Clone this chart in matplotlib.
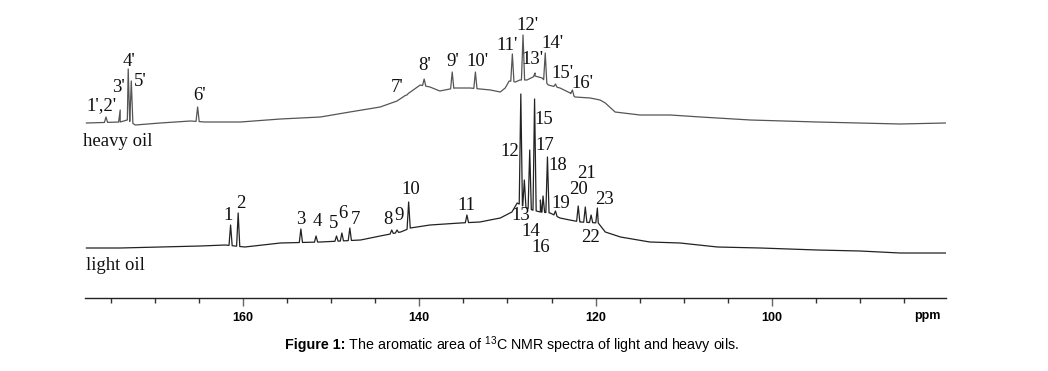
import numpy as np
import matplotlib
matplotlib.use("Agg")
import matplotlib.pyplot as plt

plt.rcParams['mathtext.fontset'] = 'custom'
plt.rcParams['mathtext.rm'] = 'Liberation Sans'
plt.rcParams['mathtext.default'] = 'regular'

# ---------------- data ----------------
# light oil: baseline points (ppm, intensity)
light_base_ppm = [177.74, 173.91, 169.37, 164.82, 162.00, 159.78, 155.74, 151.20, 146.65, 144.43,
                  142.11, 141.00, 138.78, 135.35, 133.13, 130.81, 129.49, 128.89, 127.78, 127.17,
                  126.26, 125.15, 124.04, 122.93, 121.72, 119.70, 118.90, 117.18, 113.85, 110.42,
                  106.18, 101.33, 94.87, 90.03, 85.48, 80.34]
light_base_int = [5, 5, 6, 7, 8, 6, 10, 11, 13, 17,
                  21, 25, 28, 30, 31, 35, 41, 50, 45, 43,
                  41, 40, 35, 33, 31, 30, 21, 16, 11, 10,
                  6, 5, 3, 2, 0, 0]
# light oil: labelled peaks
light_peak_labels = ['1', '2', '3', '4', '5', '6', '7', '8', '9', '10', '11', '12',
                     '13', '14', '15', '16', '17', '18', '19', '20', '21', '22', '23']
light_peak_ppm = [161.39, 160.53, 153.42, 151.70, 149.38, 148.77, 147.87, 143.12, 142.52, 141.20,
                  134.59, 128.48, 128.08, 127.47, 126.92, 126.26, 125.96, 125.46, 124.55,
                  121.97, 121.17, 120.51, 119.80]
light_peak_int = [28, 40, 24, 17, 17, 20, 25, 23, 23, 51,
                  38, 159, 73, 103, 154, 53, 57, 96, 42,
                  47, 46, 38, 45]

# heavy oil: baseline points (ppm, intensity)
heavy_base_ppm = [177.74, 173.91, 173.10, 172.19, 169.37, 165.93, 164.32, 160.28, 155.74, 151.20,
                  147.87, 144.43, 142.52, 141.00, 139.89, 138.78, 137.67, 135.95, 134.24, 131.92,
                  130.81, 130.25, 129.80, 129.09, 128.59, 127.78, 126.87, 126.06, 125.36, 124.04,
                  122.88, 122.33, 120.61, 119.50, 118.90, 117.79, 114.96, 111.53, 108.09, 102.44,
                  94.87, 85.48, 80.34]
heavy_base_int = [0, 1, 3, -2, 0, 2, 1, 1, 4, 6,
                  11, 16, 22, 31, 38, 36, 32, 35, 35, 33,
                  31, 35, 42, 41, 43, 43, 47, 45, 38, 35,
                  30, 26, 25, 23, 20, 11, 8, 8, 6, 3,
                  1, -1, 0]
# heavy oil: labelled peaks
heavy_peak_labels = ["1',2'", "3'", "4'", "5'", "6'", "7'", "8'", "9'", "10'", "11'",
                     "12'", "13'", "14'", "15'", "16'"]
heavy_peak_ppm = [175.52, 173.91, 173.00, 172.65, 165.13, 141.40, 139.44, 136.26, 133.63, 129.44,
                  128.23, 126.87, 125.71, 124.55, 122.63]
heavy_peak_int = [6, 13, 54, 42, 16, 28, 44, 51, 51, 69,
                  88, 50, 70, 39, 33]

x_ticks = [160, 140, 120, 100]

# ---------------- layout ----------------
W, H = 1048, 371
fig = plt.figure(figsize=(W / 100, H / 100), dpi=100)
AX_L, AX_R, AX_B = 85.0, 945.7, 298.3
ax = fig.add_axes([AX_L / W, (H - AX_B) / H, (AX_R - AX_L) / W, AX_B / H])
XMAX, XMIN = 177.9, 80.3
ax.set_xlim(XMAX, XMIN)
ax.set_ylim(0, AX_B)

LIGHT_OFF = AX_B - 253
HEAVY_OFF = AX_B - 123
FOOT = 0.18


def spectrum(bp, bi, pp, pi):
    bp = np.asarray(bp, float)
    bi = np.asarray(bi, float)
    xs = list(bp)
    ys = list(bi)
    order = np.argsort(bp)
    for p, h in zip(pp, pi):
        for dx in (-FOOT, FOOT):
            xs.append(p + dx)
            ys.append(np.interp(p + dx, bp[order], bi[order]))
        xs.append(p)
        ys.append(h)
    xs = np.array(xs)
    ys = np.array(ys)
    o = np.argsort(xs)
    return xs[o], ys[o]


lx, ly = spectrum(light_base_ppm, light_base_int, light_peak_ppm, light_peak_int)
hx, hy = spectrum(heavy_base_ppm, heavy_base_int, heavy_peak_ppm, heavy_peak_int)
ax.plot(lx, ly + LIGHT_OFF, color='#222222', lw=0.9)
ax.plot(hx, hy + HEAVY_OFF, color='#555555', lw=0.9)

PXPP = (AX_R - AX_L) / (XMAX - XMIN)


def px2ppm(x):
    return XMAX - (x - AX_L) / PXPP


def py2d(y):
    return AX_B - y


serif = 'Liberation Serif'
fs_lab = 13.5
# label pixel centres
light_lab_pos = [(228, 216), (241, 203), (301, 219), (317, 222), (334, 223), (343, 214),
                 (355, 219), (388, 220), (399, 216), (411, 190), (466, 205), (510, 152),
                 (521, 216), (531, 231), (544, 119), (541, 248), (545, 146), (558, 166),
                 (561, 203), (578, 190), (587, 173), (591, 238), (605, 200)]
heavy_lab_pos = [(101, 106), (118, 88), (129, 61), (140, 81), (200, 96), (397, 88),
                 (425, 65), (453, 62), (477, 62), (507, 45), (527, 25), (532, 60),
                 (552, 44), (562, 73), (582, 83)]
for t, (x, y) in zip(light_peak_labels, light_lab_pos):
    ax.text(px2ppm(x), py2d(y), t, ha='center', va='center', fontsize=fs_lab,
            family=serif, color='#111111')
for t, (x, y) in zip(heavy_peak_labels, heavy_lab_pos):
    ax.text(px2ppm(x), py2d(y), t, ha='center', va='center', fontsize=fs_lab,
            family=serif, color='#111111')

ax.text(px2ppm(83), py2d(142), 'heavy oil', ha='left', va='center', fontsize=fs_lab,
        family=serif, color='#111111')
ax.text(px2ppm(86), py2d(265), 'light oil', ha='left', va='center', fontsize=fs_lab,
        family=serif, color='#111111')

# axes styling
for s in ('top', 'left', 'right'):
    ax.spines[s].set_visible(False)
ax.spines['bottom'].set_linewidth(1.0)
ax.spines['bottom'].set_color('#222222')
ax.set_yticks([])
ax.set_xticks(x_ticks)
ax.set_xticks(np.arange(85, 180, 5), minor=True)
ax.set_xticklabels([str(v) for v in x_ticks], fontsize=9, fontweight='bold',
                   family='Liberation Sans')
ax.tick_params(axis='x', which='major', length=5.8, width=1.0, pad=3.8,
               direction='out', color='#666666')
ax.tick_params(axis='x', which='minor', length=3.6, width=1.0, direction='out',
               color='#333333')

fig.text(927 / W, 1 - 318.5 / H, 'ppm', ha='center', va='baseline', fontsize=9,
         fontweight='bold', family='Liberation Sans')

# caption
cap_y = 1 - 345.5 / H
t1 = fig.text(285 / W, cap_y, 'Figure 1:', ha='left', va='center', fontsize=10.3,
              fontweight='bold', family='Liberation Sans')
fig.canvas.draw()
bb = t1.get_window_extent()
fig.text(bb.x1 / W, cap_y, ' The aromatic area of $^{13}$C NMR spectra of light and heavy oils.',
         ha='left', va='center', fontsize=10.3, family='Liberation Sans')

fig.savefig('out.png', dpi=100)
